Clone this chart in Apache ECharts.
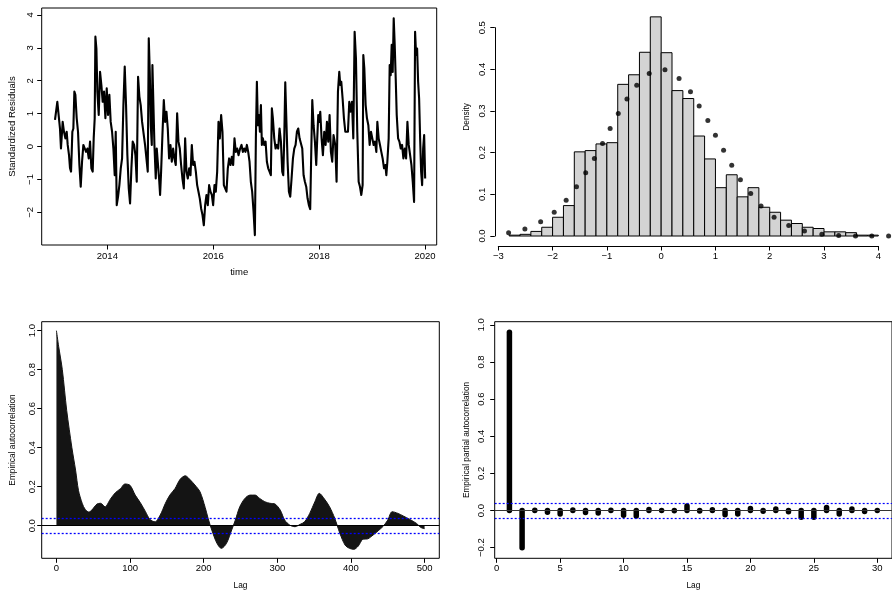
<!DOCTYPE html>
<html><head><meta charset="utf-8">
<script src="https://cdn.jsdelivr.net/npm/echarts@6/dist/echarts.min.js"></script>
<style>html,body{margin:0;padding:0;background:#fff}#c{width:892px;height:594px}</style>
</head><body><div id="c"></div>
<script>
// ---------- Panel 1: standardized residuals over time ----------
const tsTime = [
 2013.011,2013.055,2013.105,2013.124,2013.156,2013.181,2013.207,2013.232,2013.251,2013.276,
 2013.295,2013.314,2013.327,2013.339,2013.358,2013.377,2013.396,2013.421,2013.446,2013.472,
 2013.497,2013.522,2013.547,2013.572,2013.598,2013.623,2013.648,2013.673,2013.698,2013.723,
 2013.742,2013.761,2013.774,2013.793,2013.811,2013.837,2013.862,2013.887,2013.912,2013.937,
 2013.963,2013.988,2014.013,2014.038,2014.063,2014.089,2014.114,2014.139,2014.158,2014.177,
 2014.202,2014.227,2014.253,2014.278,2014.303,2014.328,2014.353,2014.378,2014.404,2014.429,
 2014.454,2014.479,2014.505,2014.530,2014.555,2014.580,2014.605,2014.630,2014.656,2014.681,
 2014.712,
 2014.744,2014.763,2014.782,2014.801,2014.820,2014.839,2014.851,2014.870,2014.889,2014.914,
 2014.933,2014.952,2014.977,2014.996,2015.015,2015.040,2015.066,2015.091,2015.116,2015.141,
 2015.166,2015.192,2015.217,2015.242,2015.267,2015.292,2015.318,2015.343,2015.368,2015.393,
 2015.418,2015.444,2015.469,2015.494,2015.519,2015.545,2015.570,2015.595,2015.620,2015.645,
 2015.671,2015.696,2015.721,2015.746,2015.771,2015.797,2015.822,2015.847,2015.872,2015.897,
 2015.922,2015.948,2015.973,2015.998,2016.023,2016.048,2016.074,2016.099,2016.124,2016.149,
 2016.174,2016.200,2016.225,2016.250,2016.275,2016.300,2016.326,2016.351,2016.376,2016.401,
 2016.426,2016.452,2016.477,2016.508,
 2016.534,2016.559,2016.584,2016.609,2016.635,2016.660,2016.685,2016.710,2016.735,2016.761,
 2016.786,2016.805,2016.824,2016.843,2016.862,2016.881,2016.900,2016.918,2016.937,2016.963,
 2016.988,2017.013,2017.038,2017.063,2017.088,2017.107,2017.126,2017.152,2017.177,2017.202,
 2017.227,2017.252,2017.278,2017.303,2017.322,2017.341,2017.360,2017.378,2017.404,2017.429,
 2017.454,2017.479,2017.505,2017.530,2017.555,2017.580,2017.605,2017.630,2017.656,2017.681,
 2017.706,2017.731,2017.756,2017.781,2017.806,2017.831,2017.850,2017.870,2017.895,2017.920,
 2017.945,2017.964,2017.983,2018.002,2018.021,2018.046,2018.071,2018.096,2018.122,2018.147,
 2018.172,2018.197,2018.222,2018.247,2018.272,2018.304,
 2018.329,2018.355,2018.380,2018.399,2018.418,2018.443,2018.468,2018.494,2018.519,2018.544,
 2018.569,2018.594,2018.620,2018.645,2018.670,2018.695,2018.720,2018.746,2018.771,2018.796,
 2018.821,2018.834,2018.853,2018.878,2018.903,2018.929,2018.954,2018.979,2019.004,2019.029,
 2019.054,2019.080,2019.099,2019.124,2019.149,2019.174,2019.199,2019.225,2019.250,2019.269,
 2019.288,2019.313,2019.332,2019.351,2019.370,2019.389,2019.408,2019.427,2019.446,2019.465,
 2019.491,2019.516,2019.541,2019.566,2019.591,2019.617,2019.642,2019.667,2019.692,2019.717,
 2019.743,2019.768,2019.793,2019.812,2019.831,2019.850,2019.869,2019.888,2019.907,2019.926,
 2019.945,2019.964,2019.983,2020.002
];
const tsValue = [
 0.81,1.36,0.55,-0.06,0.75,0.45,0.25,0.45,0.05,-0.26,
 -0.66,-0.76,-0.16,0.45,0.55,1.67,1.57,0.86,0.45,-0.56,
 -1.22,-0.46,0.05,0.10,-0.16,-0.06,-0.36,0.15,-0.66,-0.76,
 0.25,0.86,3.34,2.98,1.67,0.96,2.27,1.87,1.36,1.67,
 0.86,1.77,0.96,1.57,0.75,0.45,-0.06,-0.87,0.45,-1.78,
 -1.52,-1.17,-0.66,-0.36,1.26,2.43,1.26,-0.26,-1.27,-1.73,
 -0.66,0.15,0.05,-0.26,-1.07,2.12,1.52,1.26,0.75,0.81,
 0.05,
 -0.46,-0.76,3.29,2.27,0.65,0.05,2.48,1.26,0.05,-0.97,
 -0.06,-0.46,-0.97,-1.47,-0.76,0.35,1.41,0.75,1.06,0.55,
 -0.36,0.05,-0.46,-0.06,-0.36,-0.56,1.01,0.15,-0.06,-0.56,
 -0.97,-1.27,0.25,-0.76,-0.97,-0.66,-0.87,0.05,-0.56,-0.46,
 -0.76,-1.17,-1.37,-1.58,-1.88,-2.08,-2.39,-1.78,-1.47,-1.78,
 -1.17,-1.37,-1.47,-1.78,-1.17,-1.37,-0.76,0.75,0.25,0.96,
 0.45,-1.17,-1.27,-1.37,-0.66,-0.36,-0.56,-0.31,-0.56,0.25,
 -0.16,-0.06,-0.26,-0.06,
 0.05,-0.16,-0.06,-0.16,0.05,-0.16,-0.46,-1.07,-1.37,-1.98,
 -2.69,0.25,1.97,0.65,0.96,0.45,1.26,0.05,0.25,0.05,
 0.15,-0.46,-0.66,-0.76,-0.87,1.16,0.86,0.25,-0.06,0.05,
 -0.06,0.55,0.15,-0.76,-0.87,0.25,1.95,0.96,-0.46,-1.37,
 -1.52,-0.97,-0.36,-0.06,0.05,0.45,0.55,0.25,0.25,-0.06,
 -0.87,-1.07,-1.22,-1.57,-1.78,-1.90,-0.26,1.41,0.65,0.15,
 -0.56,0.25,0.96,0.75,1.06,0.25,-0.26,0.45,0.05,0.75,
 0.15,0.96,-0.16,-0.46,0.35,0.05,
 -1.07,1.67,2.27,1.87,1.97,1.46,0.86,0.45,0.40,0.45,
 1.36,1.06,1.36,0.25,3.49,2.68,0.45,-1.07,-1.22,-1.47,
 -1.17,2.78,2.38,1.26,0.86,0.65,0.05,0.45,0.25,0.05,
 0.15,-0.16,0.75,0.25,0.05,-0.16,-0.36,-0.66,-0.56,-0.87,
 -0.46,0.25,2.48,2.17,3.09,2.27,3.90,3.09,2.07,0.96,
 0.25,0.15,-0.06,0.05,-0.36,-0.06,-0.36,0.75,0.05,0.05,
 -0.56,-1.07,-1.68,3.49,2.78,2.98,1.97,1.46,0.25,-0.76,
 -1.17,-0.06,0.35,-0.97
];
const tsTicksX = [2014, 2016, 2018, 2020];
const tsTicksY = [-2, -1, 0, 1, 2, 3, 4];

// ---------- Panel 2: histogram with density points ----------
const histBreaks = [-2.8,-2.6,-2.4,-2.2,-2.0,-1.8,-1.6,-1.4,-1.2,-1.0,-0.8,-0.6,-0.4,-0.2,0.0,
  0.2,0.4,0.6,0.8,1.0,1.2,1.4,1.6,1.8,2.0,2.2,2.4,2.6,2.8,3.0,3.2,3.4,3.6,3.8,4.0];
const histDensity = [0.002,0.004,0.011,0.021,0.045,0.073,0.202,0.205,0.221,0.224,
  0.364,0.387,0.441,0.526,0.440,0.349,0.330,0.240,0.185,0.116,
  0.147,0.094,0.116,0.069,0.057,0.038,0.030,0.021,0.018,0.010,
  0.010,0.008,0.002,0.002];
const densX = [-2.81,-2.51,-2.22,-1.97,-1.75,-1.56,-1.39,-1.23,-1.08,-0.94,
  -0.79,-0.63,-0.45,-0.22,0.07,0.33,0.54,0.70,0.86,1.00,
  1.15,1.30,1.46,1.65,1.84,2.08,2.35,2.64,2.96,3.27,3.58,3.88,4.19];
const densY = [0.008,0.017,0.034,0.057,0.086,0.118,0.152,0.186,0.222,0.258,
  0.294,0.329,0.362,0.390,0.399,0.378,0.346,0.312,0.277,0.242,
  0.206,0.170,0.135,0.102,0.072,0.045,0.025,0.012,0.004,0.001,0.0,0.0,0.0];

// ---------- Panel 3: ACF ----------
const acfLag = [0,3,8,14,21,26,30,35,39,44,48,55,60,66,73,80,87,93,100,107,
  114,121,127,134,141,148,154,161,168,175,182,188,195,202,206,211,218,224,231,238,
  243,249,256,263,270,276,283,290,297,304,310,317,324,331,337,344,351,357,364,371,
  378,385,392,398,404,410,416,423,430,437,444,450,456,464,471,480,489,495,500];
const acfValue = [1.0,0.92,0.80,0.59,0.40,0.285,0.18,0.115,0.084,0.070,
  0.080,0.111,0.115,0.097,0.135,0.169,0.19,0.214,0.207,0.157,
  0.118,0.072,0.032,0.02,0.055,0.115,0.157,0.19,0.238,0.256,
  0.234,0.209,0.174,0.094,0.038,-0.022,-0.09,-0.116,-0.09,-0.022,
  0.029,0.097,0.14,0.157,0.157,0.14,0.123,0.115,0.111,0.08,
  0.029,0.003,-0.005,0.007,0.02,0.063,0.123,0.166,0.137,0.097,
  0.038,-0.039,-0.099,-0.116,-0.121,-0.104,-0.07,-0.067,-0.048,-0.026,
  -0.002,0.029,0.072,0.063,0.05,0.032,0.012,-0.009,-0.015];
const acfCI = 0.039;
const acfTicksX = [0, 100, 200, 300, 400, 500];
const acfTicksY = [0, 0.2, 0.4, 0.6, 0.8, 1.0];

// ---------- Panel 4: PACF ----------
const pacfLag = [1,2,3,4,5,6,7,8,9,10,11,12,13,14,15,16,17,18,19,20,21,22,23,24,25,26,27,28,29,30];
const pacfValue = [0.96,-0.20,0.002,-0.009,-0.018,0.003,-0.011,-0.013,0.002,-0.025,
  -0.029,0.006,0.001,-0.001,0.025,-0.002,0.004,-0.022,-0.018,0.011,
  -0.003,0.008,-0.006,-0.036,-0.036,0.016,-0.018,0.008,-0.005,0.001];
const pacfCI = 0.039;
const pacfTicksX = [0, 5, 10, 15, 20, 25, 30];
const pacfTicksY = [-0.2, 0, 0.2, 0.4, 0.6, 0.8, 1.0];

// ---------- chart ----------
const FONT = "'Liberation Sans', Arial, Helvetica, sans-serif";
const minus = s => String(s).replace('-', '\u2212');
const fmt0 = v => minus(Math.round(v));
const fmt1 = v => minus((Math.round(v * 10) / 10).toFixed(1));
const black = '#000';

function xAx(grid, o) {
  return Object.assign({
    type: 'value', gridIndex: grid, splitLine: {show: false},
    axisLine: {show: false, onZero: false, lineStyle: {color: black, width: 1}},
    axisTick: {show: true, length: 4.5, lineStyle: {color: black, width: 1}},
    axisLabel: {color: black, fontSize: 9.5, fontFamily: FONT, margin: 5, showMinLabel: true, showMaxLabel: true},
    nameLocation: 'middle', nameTextStyle: {color: black, fontSize: 8.3, fontFamily: FONT}
  }, o);
}
function yAx(grid, o) {
  return Object.assign({
    type: 'value', gridIndex: grid, splitLine: {show: false},
    axisLine: {show: false, onZero: false, lineStyle: {color: black, width: 1}},
    axisTick: {show: true, length: 4.5, lineStyle: {color: black, width: 1}},
    axisLabel: {color: black, fontSize: 9.5, fontFamily: FONT, rotate: 90, margin: 6, showMinLabel: true, showMaxLabel: true},
    nameLocation: 'middle', nameRotate: 90, nameTextStyle: {color: black, fontSize: 8.3, fontFamily: FONT}
  }, o);
}
function deep(a, b) { return Object.assign({}, a, b); }

const base = xAx(0, {});
const baseY = yAx(0, {});

const option = {
  animation: false,
  backgroundColor: '#fff',
  grid: [
    {left: 41.7, top: 8, width: 395, height: 237, show: true, borderColor: black, borderWidth: 1, backgroundColor: 'transparent'},
    {left: 498.3, top: 27.7, width: 380, height: 208.3, show: false},
    {left: 41.7, top: 321.7, width: 397.6, height: 236.6, show: true, borderColor: black, borderWidth: 1, backgroundColor: 'transparent'},
    {left: 494.7, top: 321.7, width: 398.3, height: 236.6, show: true, borderColor: black, borderWidth: 1, backgroundColor: 'transparent'}
  ],
  xAxis: [
    xAx(0, {min: 2012.76, max: 2020.22, name: 'time', nameGap: 22,
      nameTextStyle: {color: black, fontSize: 9.5, fontFamily: FONT},
      axisTick: deep(base.axisTick, {customValues: tsTicksX}),
      axisLabel: deep(base.axisLabel, {customValues: tsTicksX, margin: 6, formatter: fmt0})}),
    xAx(1, {min: -3, max: 4, interval: 1, offset: 10,
      axisLine: {show: true, onZero: false, lineStyle: {color: black, width: 1}},
      axisLabel: deep(base.axisLabel, {margin: 5, formatter: fmt0})}),
    xAx(2, {min: -20, max: 520, name: 'Lag', nameGap: 23,
      axisTick: deep(base.axisTick, {customValues: acfTicksX}),
      axisLabel: deep(base.axisLabel, {customValues: acfTicksX, margin: 5, formatter: fmt0})}),
    xAx(3, {min: -0.16, max: 31.16, name: 'Lag', nameGap: 23,
      axisTick: deep(base.axisTick, {customValues: pacfTicksX}),
      axisLabel: deep(base.axisLabel, {customValues: pacfTicksX, margin: 5, formatter: fmt0})})
  ],
  yAxis: [
    yAx(0, {min: -2.99, max: 4.21, name: 'Standardized Residuals', nameGap: 24,
      nameTextStyle: {color: black, fontSize: 9.5, fontFamily: FONT},
      axisTick: deep(baseY.axisTick, {customValues: tsTicksY}),
      axisLabel: deep(baseY.axisLabel, {customValues: tsTicksY, margin: 6, formatter: fmt0})}),
    yAx(1, {min: 0, max: 0.5, interval: 0.1, offset: 3.5, name: 'Density', nameGap: 24,
      nameTextStyle: {color: black, fontSize: 8.3, fontFamily: FONT, padding: [0, 0, 0, 30]},
      axisLine: {show: true, onZero: false, lineStyle: {color: black, width: 1}},
      axisLabel: deep(baseY.axisLabel, {margin: 7.5, formatter: fmt1})}),
    yAx(2, {min: -0.167, max: 1.046, name: 'Empirical autocorrelation', nameGap: 24.5,
      axisTick: deep(baseY.axisTick, {customValues: acfTicksY}),
      axisLabel: deep(baseY.axisLabel, {customValues: acfTicksY, margin: 4, formatter: fmt1})}),
    yAx(3, {min: -0.257, max: 1.017, name: 'Empirical partial autocorrelation', nameGap: 23.5,
      axisTick: deep(baseY.axisTick, {customValues: pacfTicksY}),
      axisLabel: deep(baseY.axisLabel, {customValues: pacfTicksY, margin: 8, formatter: fmt1})})
  ],
  series: [
    {
      type: 'line', xAxisIndex: 0, yAxisIndex: 0, showSymbol: false, silent: true,
      data: tsTime.map((t, i) => [t, tsValue[i]]),
      lineStyle: {color: black, width: 2.1, join: 'round'}
    },
    {
      type: 'custom', xAxisIndex: 1, yAxisIndex: 1, silent: true, clip: false,
      data: histDensity.map((d, i) => [histBreaks[i], histBreaks[i + 1], d]),
      encode: {x: [0, 1], y: 2},
      renderItem: function (params, api) {
        const p0 = api.coord([api.value(0), api.value(2)]);
        const p1 = api.coord([api.value(1), 0]);
        return {type: 'rect', shape: {x: p0[0], y: p0[1], width: p1[0] - p0[0], height: p1[1] - p0[1]},
          style: {fill: '#D3D3D3', stroke: black, lineWidth: 1}};
      }
    },
    {
      type: 'scatter', xAxisIndex: 1, yAxisIndex: 1, silent: true, clip: false,
      data: densX.map((x, i) => [x, densY[i]]),
      symbol: 'circle', symbolSize: 5, itemStyle: {color: black}, z: 5
    },
    {
      type: 'line', xAxisIndex: 2, yAxisIndex: 2, showSymbol: false, silent: true, smooth: 0.3,
      data: acfLag.map((l, i) => [l, acfValue[i]]),
      lineStyle: {color: '#141414', width: 1},
      areaStyle: {color: '#141414', opacity: 1, origin: 0},
      markLine: {
        silent: true, symbol: 'none', label: {show: false}, animation: false,
        data: [
          {yAxis: 0, lineStyle: {color: black, type: 'solid', width: 1}},
          {yAxis: acfCI, lineStyle: {color: '#0000FF', type: [2, 2], width: 1.3}},
          {yAxis: -acfCI, lineStyle: {color: '#0000FF', type: [2, 2], width: 1.3}}
        ]
      }
    },
    {
      type: 'custom', xAxisIndex: 3, yAxisIndex: 3, silent: true,
      data: pacfLag.map((l, i) => [l, pacfValue[i]]),
      encode: {x: 0, y: 1},
      renderItem: function (params, api) {
        const a = api.coord([api.value(0), 0]);
        const b = api.coord([api.value(0), api.value(1)]);
        return {type: 'line', shape: {x1: a[0], y1: a[1], x2: b[0], y2: b[1]},
          style: {stroke: black, lineWidth: 5.5, lineCap: 'round'}};
      }
    },
    {
      type: 'line', xAxisIndex: 3, yAxisIndex: 3, data: [], silent: true,
      markLine: {
        silent: true, symbol: 'none', label: {show: false}, animation: false,
        data: [
          {yAxis: 0, lineStyle: {color: '#333', type: 'solid', width: 1}},
          {yAxis: pacfCI, lineStyle: {color: '#0000FF', type: [2, 2], width: 1.2}},
          {yAxis: -pacfCI, lineStyle: {color: '#0000FF', type: [2, 2], width: 1.2}}
        ]
      }
    }
  ]
};
const chart = echarts.init(document.getElementById('c'), null, {renderer: 'canvas'});
chart.setOption(option);
</script>
</body></html>
